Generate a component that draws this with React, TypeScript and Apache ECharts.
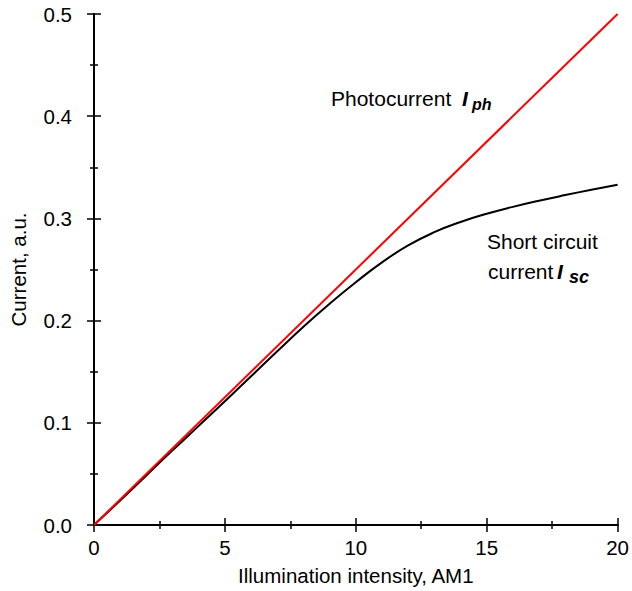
import React, { useEffect, useRef } from "react";
import * as echarts from "echarts";

const xTicks = [0, 5, 10, 15, 20];
const photoX = [0, 20];
const photoY = [0, 0.5];
const scX = [0, 1, 2, 3, 4, 5, 6, 7, 8, 9, 10, 11, 12, 13, 14, 15, 16, 17, 18, 19, 20];
const scY = [0, 0.024, 0.0485, 0.073, 0.097, 0.121, 0.1455, 0.1700, 0.1940, 0.2165, 0.2375, 0.2570, 0.2735, 0.2865, 0.2965, 0.3045, 0.3113, 0.3173, 0.3228, 0.3280, 0.3330];

const FONT = "'Liberation Sans', Arial, sans-serif";

export default function App() {
  const ref = useRef<HTMLDivElement>(null);
  useEffect(() => {
    if (!ref.current) return;
    const chart = echarts.init(ref.current, null, { renderer: "svg" });
    const axisLine = { show: true, lineStyle: { color: "#000", width: 2 } };
    const tick = { show: true, inside: true, length: 7, lineStyle: { color: "#000", width: 1.5 } };
    const minor = { show: true, splitNumber: 2, length: 4, lineStyle: { color: "#000", width: 1.5 } };
    const photo = photoX.map((x, i) => [x, photoY[i]]);
    const sc = scX.map((x, i) => [x, scY[i]]);
    chart.setOption({
      animation: false,
      backgroundColor: "#fff",
      grid: { left: 91, right: 12, top: 14, bottom: 63, containLabel: false },
      xAxis: [
        {
          type: "value", min: xTicks[0], max: xTicks[xTicks.length - 1], interval: 5,
          position: "bottom",
          name: "Illumination intensity, AM1", nameLocation: "middle", nameGap: 40,
          nameTextStyle: { fontFamily: FONT, fontSize: 20.5, color: "#000" },
          axisLine, axisTick: tick, minorTick: minor, splitLine: { show: false },
          axisLabel: { fontFamily: FONT, fontSize: 20.5, color: "#000", margin: 12 },
        },
        {
          type: "value", min: 0, max: 20, interval: 5, position: "top",
          axisLine, axisTick: tick, minorTick: minor, splitLine: { show: false },
          axisLabel: { show: false },
        },
      ],
      yAxis: [
        {
          type: "value", min: 0, max: 0.5, interval: 0.1, position: "left",
          name: "Current, a.u.", nameLocation: "middle", nameGap: 65,
          nameTextStyle: { fontFamily: FONT, fontSize: 20.5, color: "#000" },
          axisLine, axisTick: tick, minorTick: minor, splitLine: { show: false },
          axisLabel: { fontFamily: FONT, fontSize: 20.5, color: "#000", margin: 22, formatter: (v: number) => v.toFixed(1) },
        },
        {
          type: "value", min: 0, max: 0.5, interval: 0.1, position: "right",
          axisLine, axisTick: tick, minorTick: minor, splitLine: { show: false },
          axisLabel: { show: false },
        },
      ],
      series: [
        { type: "line", data: sc, smooth: 0.5, symbol: "none", lineStyle: { color: "#000", width: 2 }, z: 3 },
        { type: "line", data: photo, symbol: "none", lineStyle: { color: "#ff0000", width: 2 }, z: 4 },
      ],
      graphic: [
        { type: "text", x: 331, y: 98.5, style: { text: "Photocurrent", font: `21px ${FONT}`, fill: "#000", textAlign: "left", textVerticalAlign: "middle" } },
        { type: "text", x: 462, y: 98.5, style: { text: "I", font: `italic bold 21px ${FONT}`, fill: "#000", textAlign: "left", textVerticalAlign: "middle" } },
        { type: "text", x: 472, y: 104, style: { text: "ph", font: `italic bold 16px ${FONT}`, fill: "#000", textAlign: "left", textVerticalAlign: "middle" } },
        { type: "text", x: 487, y: 241, style: { text: "Short circuit", font: `21px ${FONT}`, fill: "#000", textAlign: "left", textVerticalAlign: "middle" } },
        { type: "text", x: 488, y: 271, style: { text: "current", font: `21px ${FONT}`, fill: "#000", textAlign: "left", textVerticalAlign: "middle" } },
        { type: "text", x: 557, y: 271, style: { text: "I", font: `italic bold 21px ${FONT}`, fill: "#000", textAlign: "left", textVerticalAlign: "middle" } },
        { type: "text", x: 569, y: 277, style: { text: "sc", font: `italic bold 18px ${FONT}`, fill: "#000", textAlign: "left", textVerticalAlign: "middle" } },
      ],
    });
    return () => chart.dispose();
  }, []);
  return <div ref={ref} style={{ position: "fixed", left: 0, top: 0, width: 632, height: 591 }} />;
}
